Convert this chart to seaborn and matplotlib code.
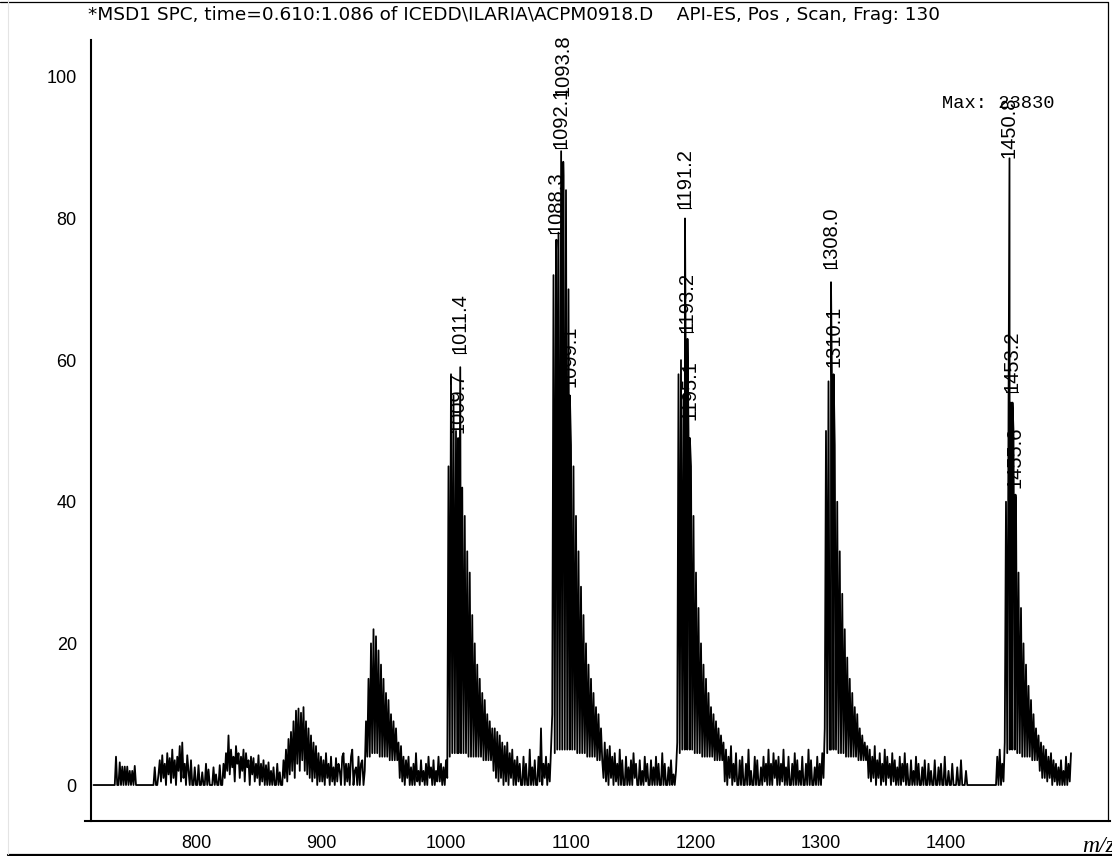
import numpy as np
import pandas as pd
import matplotlib
matplotlib.use("Agg")
import matplotlib.pyplot as plt
import seaborn as sns
from matplotlib.lines import Line2D
from matplotlib.ticker import FixedLocator, MultipleLocator

sns.set_theme(style="white")
plt.rcParams["font.family"] = ["Liberation Sans", "DejaVu Sans"]

# ---------------------------------------------------------------------------
# Profile spectrum, relative abundance (%) on a 1 m/z grid from 718 to 1500
# ---------------------------------------------------------------------------
abund_718_799 = [
    0, 0, 0, 0, 0, 0, 0, 0, 0, 0, 0, 0, 0, 0, 0, 0, 0,
    0, 4, 0, 0, 3.2, 0, 2.6, 0, 2.6, 0, 2.6, 0, 2, 0, 2, 0, 2.7,
    0, 0, 0, 0, 0, 0, 0, 0, 0, 0, 0, 0, 0, 0, 0, 2.5, 0, 0, 1.5,
    3.5, 0.5, 4.2, 1, 3, 0, 4.5, 1.5, 3.8, 0.3, 5, 1, 3.5, 0, 4, 2, 5.5, 0.5, 6, 1,
    3, 0, 4.2, 2, 0, 3.5, 0, 0, 2.5,
]
abund_800_899 = [
    0, 0, 2.8, 0, 0, 1.8, 0, 0, 3, 0, 2.2, 0, 0, 0, 2.5, 0, 1.5, 0, 0, 2.8, 0, 0, 3,
    1, 4.5, 2, 7, 1.5, 5, 2.5, 4, 0.5, 5.5, 3, 4.5, 1, 4, 2, 5, 0.5, 4.5, 2.5, 3.5,
    0, 4, 1.5, 3.8, 0.5, 3, 1, 4.2, 0, 3, 0.5, 3.5, 0, 2.8, 0, 3.2, 0, 2,
    0, 2.5, 0, 0, 3, 0, 1.8, 0, 0, 3.5,
    1, 5, 0.5, 6.5, 1.5, 7.5, 2, 9, 1, 10.5, 3, 10.8, 2, 10.2, 3.5, 11, 2, 9, 1.5, 8,
    1, 7, 0.5, 6, 1, 5.5, 0, 4.5, 0.5,
]
abund_900_999 = [
    4, 0.5, 3.5, 0, 4.5, 1, 3, 0, 4, 0.5, 2.5, 0, 3.8, 0.5, 3, 2, 0, 4, 4.5, 0,
    3, 0.5, 3, 0, 4, 5, 0, 2, 2.5, 0, 4, 0, 3, 3.5, 0, 2,
    9, 4, 15, 4, 20, 4.5, 22, 4.5, 21, 4.5, 19, 4, 17, 4, 15, 4, 13, 4, 12, 3.5,
    10, 3.5, 9, 3.5, 8, 3.5, 6,
    1, 5.5, 0.5, 4, 0, 3.5, 1, 4, 0, 2.5, 0, 3, 0, 4.5, 0.5, 2, 0, 3.5, 0.5, 2,
    0, 3, 0, 4, 1, 2.5, 0, 3.5, 0, 2, 0.5, 4, 0.5, 3, 0, 2.5, 0,
]
abund_1000_1099 = [
    3.5, 1,
    45, 4, 58, 4.5, 55, 4.5, 50, 4.5, 4.5, 45, 4.5, 42, 4.5, 38, 4.5, 33, 4, 30,
    4, 24, 4, 20, 4, 17, 4, 15, 4, 13, 3.5, 12, 3.5, 10, 3.5, 9, 3.5, 8, 2,
    8, 1, 7.5, 0.5, 7, 1, 6, 0, 5.5, 0.5, 6, 0, 4.5, 1, 5, 0, 3.5, 0, 4, 0.5,
    3, 0, 0, 4, 0, 3, 0, 0, 5, 0, 2.5, 0, 3.5, 0, 0, 4, 0.5, 8, 0, 3, 1, 4, 0, 3,
    0.5, 5,
    10, 72, 4.5, 75, 5, 78, 5, 84, 5, 86, 5, 84, 5, 70, 5,
]
abund_1100_1199 = [
    48, 5, 45, 5, 38, 4.5, 33, 4.5, 28, 4.5, 24, 4.5, 20, 4, 17, 4, 15, 4, 13, 4,
    11, 3.5, 10, 3.5, 8, 3.5,
    1, 6, 0.5, 5, 0, 5.5, 1, 4, 0, 4.5, 0.5, 3, 0, 5, 0, 3.5, 0, 0, 4, 0,
    2.5, 0, 3.5, 0, 4.5, 1, 3, 0, 0, 3.5, 0, 2, 0, 4, 0.5, 3, 0, 0, 3.5, 0,
    2.5, 0, 4, 0, 3, 0, 0, 4.5, 0, 3, 0, 0, 2.5, 0, 3.5, 0, 1.5, 0, 2,
    6, 58, 4.5, 60, 5, 55, 5, 52, 5, 50, 5, 45, 5, 38, 4.5,
]
abund_1200_1299 = [
    30, 4.5, 25, 4.5, 20, 4, 17, 4, 15, 4, 13, 4, 11, 4, 10, 3.5, 9, 3.5, 8, 3.5,
    7, 3.5, 6,
    0.5, 5, 0, 4, 1, 5.5, 0, 3, 0.5, 4.5, 0, 0, 3.5, 0, 4, 0, 0, 3, 0, 5,
    0, 2, 0, 0, 4, 0, 3.5, 0, 0, 2.5, 0, 4, 0.5, 3, 0, 5, 0, 3, 0, 4.5,
    1, 3.5, 0, 4, 0, 3, 0.5, 5, 0, 2.5, 0, 4, 0, 0, 3, 0, 4.5, 0, 3.5, 0,
    2, 0, 4, 0, 0, 3, 0, 5, 0, 3.5, 0, 0, 2.5, 0, 4, 0, 3,
]
abund_1300_1399 = [
    0, 4.5, 1, 8,
    50, 4.5, 57, 5, 5, 52, 5, 48, 5, 40, 4.5, 33, 4.5, 27, 4.5, 22, 4, 18, 4, 15,
    4, 13, 4, 11, 4, 10, 3.5, 8, 3.5, 7, 3.5, 6, 3.5, 5.5,
    1, 5, 0.5, 4, 1, 5.5, 0, 3.5, 1, 4.5, 0, 3, 0.5, 5, 0, 4, 1, 3, 0, 4.5,
    0.5, 3.5, 0, 2.5, 0, 4, 0, 3, 0.5, 4.5, 0, 3, 0, 0, 3.5, 0, 2, 0, 4, 0,
    3, 0, 0, 2.5, 0, 3.5, 0, 0, 3, 0, 2, 0, 0, 3.5, 0, 0, 2.5, 0, 3, 0, 0, 4,
]
abund_1400_1500 = [
    0, 0, 2, 0, 0, 3, 0, 0, 0, 2.5, 0, 0, 3.5, 0, 0, 0, 2, 0,
    0, 0, 0, 0, 0, 0, 0, 0, 0, 0, 0, 0, 0, 0, 0, 0, 0, 0, 0, 0, 0, 0, 0,
    4, 0, 5, 0, 3, 0.5, 6,
    40, 4.5, 52, 5, 54, 5, 50, 5, 40, 4.5, 30, 4.5, 25, 4, 20, 4, 17, 4, 14, 4,
    12, 3.5, 10, 3.5, 8, 3.5, 7,
    2, 6, 1, 5.5, 1, 5, 0.5, 4, 1, 4.5, 0, 3.5, 0.5, 3, 0, 2.5, 0, 3.5, 0, 2,
    0, 4, 0, 3, 0.5, 4.5,
]

# Annotated centroid peaks (m/z, abundance) and where each label sits (%)
peak_mz = [1009.7, 1011.4, 1088.3, 1092.1, 1093.8, 1099.1,
           1191.2, 1193.2, 1195.1, 1308.0, 1310.1, 1450.8, 1453.2, 1455.6]
peak_abund = [49, 59, 77, 89.5, 88, 55,
              80, 63, 49, 71, 58, 88.5, 54, 41]
label_base = [49.7, 61, 78, 90, 97.3, 56.2,
              81.5, 64, 51.5, 73, 59, 88.6, 55.5, 42]
label_dash = [False, True, True, True, False, False,
              True, True, False, True, False, False, True, False]

x_ticks = [800, 900, 1000, 1100, 1200, 1300, 1400, 1500]
x_tick_labels = ["800", "900", "1000", "1100", "1200", "1300", "1400", ""]
y_ticks = [0, 20, 40, 60, 80, 100]

title = ("*MSD1 SPC, time=0.610:1.086 of ICEDD\\ILARIA\\ACPM0918.D    "
         "API-ES, Pos , Scan, Frag: 130")
max_text = "Max: 23830"

# ---------------------------------------------------------------------------
grid_abund = np.concatenate([abund_718_799, abund_800_899, abund_900_999,
                             abund_1000_1099, abund_1100_1199, abund_1200_1299,
                             abund_1300_1399, abund_1400_1500]).astype(float)
grid_mz = np.arange(718, 718 + len(grid_abund), dtype=float)

mz_all = np.concatenate([grid_mz, peak_mz])
ab_all = np.concatenate([grid_abund, peak_abund])
order = np.argsort(mz_all, kind="stable")
spectrum = pd.DataFrame({"mz": mz_all[order], "abundance": ab_all[order]})

W, H = 1112, 856
fig = plt.figure(figsize=(W / 100, H / 100), dpi=100)
fig.patch.set_facecolor("white")


def fx(px):
    return px / W


def fy(py):
    return 1 - py / H


ax_left, ax_right, ax_top, ax_bottom = 85, 1110, 40, 821
ax = fig.add_axes([fx(ax_left), fy(ax_bottom),
                   fx(ax_right - ax_left), (ax_bottom - ax_top) / H])
ax.set_facecolor("white")

sns.lineplot(data=spectrum, x="mz", y="abundance", sort=False, estimator=None,
             color="black", linewidth=1.3, ax=ax)

ax.set_xlim(711.2, 1531.2)
ax.set_ylim(-5.08, 105.2)
ax.set_xlabel("")
ax.set_ylabel("")
ax.grid(False)

for side in ("top", "right"):
    ax.spines[side].set_visible(False)
for side in ("left", "bottom"):
    ax.spines[side].set_color("black")
    ax.spines[side].set_linewidth(1.5)
ax.spines["left"].set_position(("data", 715.8))

ax.xaxis.set_major_locator(FixedLocator(x_ticks))
ax.set_xticklabels(x_tick_labels)
ax.xaxis.set_minor_locator(MultipleLocator(20))
ax.yaxis.set_major_locator(FixedLocator(y_ticks))
ax.yaxis.set_minor_locator(FixedLocator([v for v in range(5, 100, 5) if v % 20]))

ax.tick_params(axis="both", which="major", direction="out", length=7.5,
               width=1.0, color="black", labelsize=13, labelcolor="black", pad=2.5)
ax.tick_params(axis="both", which="minor", direction="out", length=4,
               width=0.9, color="black")

# Peak annotations: rotated m/z labels above the annotated maxima
px_per_mz = (ax_right - ax_left) / (1531.2 - 711.2)
for m, base, dash in zip(peak_mz, label_base, label_dash):
    ax.text(m, base, f"{m:.1f}", rotation=90, ha="center", va="bottom",
            fontsize=14.5, color="black")
    if dash:
        half = 6 / px_per_mz
        ax.plot([m - half, m + half], [base, base], color="black", lw=0.8)

ax.text(1397, 96.2, max_text, ha="left", va="center", fontsize=13.5,
        family="Liberation Mono", color="black")

# Header and outer frame
fig.text(fx(88), fy(15), title, ha="left", va="center", fontsize=13.3,
         family="DejaVu Sans", color="black")
fig.text(fx(1082), fy(846), "m/z", ha="left", va="center", fontsize=17,
         family="Liberation Serif", style="italic", color="black")

frame = dict(transform=fig.transFigure, color="black")
fig.add_artist(Line2D([fx(0), fx(1108)], [fy(1.5), fy(1.5)], lw=0.9, **frame))
fig.add_artist(Line2D([fx(1108), fx(1108)], [fy(1.5), fy(821)], lw=0.9, **frame))
fig.add_artist(Line2D([fx(8), fx(W)], [fy(854.5), fy(854.5)], lw=1.6, **frame))
fig.add_artist(Line2D([fx(8), fx(8)], [fy(0), fy(854)], lw=0.8,
                      transform=fig.transFigure, color="#e4e4e4"))

fig.savefig("out.png", dpi=100, facecolor="white")
